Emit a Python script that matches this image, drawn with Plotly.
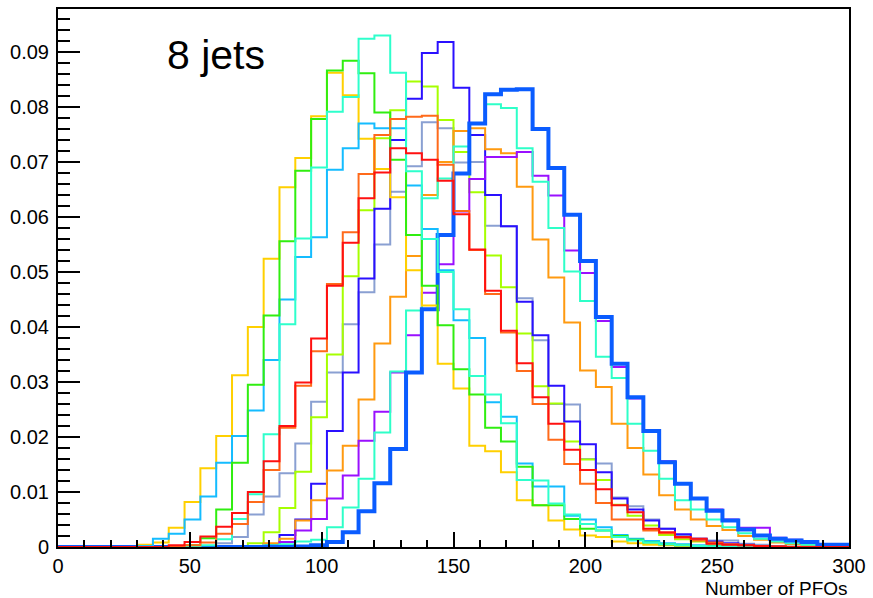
import plotly.graph_objects as go

# Bin edges (width 6) from 0 to 300
bin_width = 6
n_bins = 50
edges = [i * bin_width for i in range(n_bins + 1)]

def pad(start, vals):
    out = [0.0] * start + list(vals)
    return out + [0.0] * (n_bins - len(out))

yellow = pad(5, [0.0004, 0.0008, 0.0035, 0.0082, 0.0143, 0.0202, 0.0312, 0.0400, 0.0524, 0.0654,
                 0.0707, 0.0783, 0.0862, 0.0821, 0.0742, 0.0687, 0.0636, 0.0503, 0.0439, 0.0333,
                 0.0288, 0.0184, 0.0174, 0.0136, 0.0085, 0.0076, 0.0048, 0.0032, 0.0021, 0.0018,
                 0.0010, 0.0007, 0.0004, 0.0003, 0.0002, 0.0001])
lightblue = pad(5, [0.0002, 0.0015, 0.0024, 0.0050, 0.0092, 0.0153, 0.0202, 0.0248, 0.0340, 0.0450,
                    0.0527, 0.0563, 0.0686, 0.0725, 0.0770, 0.0761, 0.0761, 0.0657, 0.0578, 0.0503,
                    0.0412, 0.0380, 0.0263, 0.0237, 0.0152, 0.0110, 0.0110, 0.0057, 0.0050, 0.0036,
                    0.0022, 0.0015, 0.0011, 0.0007, 0.0005, 0.0003, 0.0002, 0.0001])
green = pad(8, [0.0003, 0.0016, 0.0068, 0.0153, 0.0295, 0.0421, 0.0556, 0.0684, 0.0778, 0.0866,
                0.0884, 0.0861, 0.0790, 0.0704, 0.0567, 0.0475, 0.0403, 0.0323, 0.0277, 0.0217,
                0.0192, 0.0146, 0.0076, 0.0076, 0.0051, 0.0033, 0.0030, 0.0020, 0.0013, 0.0008,
                0.0005, 0.0003, 0.0002, 0.0001])
aqua1 = pad(9, [0.0003, 0.0014, 0.0051, 0.0096, 0.0205, 0.0405, 0.0561, 0.0690, 0.0791, 0.0818,
                0.0924, 0.0930, 0.0862, 0.0683, 0.0560, 0.0500, 0.0432, 0.0311, 0.0277, 0.0225,
                0.0122, 0.0121, 0.0079, 0.0059, 0.0042, 0.0030, 0.0018, 0.0012, 0.0008, 0.0005,
                0.0003, 0.0002, 0.0001])
red = pad(7, [0.0003, 0.0009, 0.0019, 0.0037, 0.0062, 0.0100, 0.0156, 0.0220, 0.0299, 0.0379,
              0.0475, 0.0553, 0.0634, 0.0681, 0.0725, 0.0716, 0.0704, 0.0666, 0.0605, 0.0541,
              0.0466, 0.0393, 0.0334, 0.0272, 0.0224, 0.0177, 0.0140, 0.0105, 0.0076, 0.0063,
              0.0033, 0.0027, 0.0018, 0.0015, 0.0006, 0.0004, 0.0003, 0.0002, 0.0001])
orangered = pad(8, [0.0003, 0.0008, 0.0024, 0.0042, 0.0082, 0.0140, 0.0217, 0.0293, 0.0356, 0.0478,
                    0.0572, 0.0678, 0.0749, 0.0778, 0.0782, 0.0784, 0.0695, 0.0611, 0.0540, 0.0460,
                    0.0390, 0.0320, 0.0260, 0.0195, 0.0151, 0.0115, 0.0080, 0.0050, 0.0050, 0.0030,
                    0.0025, 0.0017, 0.0012, 0.0008, 0.0005, 0.0003, 0.0002, 0.0001])
steelblue = pad(9, [0.0002, 0.0007, 0.0018, 0.0059, 0.0092, 0.0134, 0.0188, 0.0264, 0.0317, 0.0405,
                    0.0463, 0.0550, 0.0646, 0.0692, 0.0772, 0.0761, 0.0699, 0.0700, 0.0584, 0.0583,
                    0.0452, 0.0376, 0.0260, 0.0259, 0.0160, 0.0152, 0.0090, 0.0074, 0.0050, 0.0033,
                    0.0021, 0.0015, 0.0012, 0.0012, 0.0006, 0.0004, 0.0002, 0.0001])
chartreuse = pad(11, [0.0002, 0.0007, 0.0027, 0.0071, 0.0137, 0.0236, 0.0350, 0.0492, 0.0612, 0.0743,
                      0.0794, 0.0846, 0.0837, 0.0776, 0.0718, 0.0645, 0.0530, 0.0472, 0.0388, 0.0292,
                      0.0261, 0.0192, 0.0159, 0.0122, 0.0077, 0.0057, 0.0039, 0.0022, 0.0014, 0.0010,
                      0.0006, 0.0004, 0.0002, 0.0001])
blueviolet = pad(12, [0.0002, 0.0005, 0.0022, 0.0050, 0.0115, 0.0211, 0.0317, 0.0488, 0.0615, 0.0740,
                      0.0815, 0.0898, 0.0918, 0.0835, 0.0749, 0.0640, 0.0583, 0.0446, 0.0385, 0.0293,
                      0.0228, 0.0187, 0.0136, 0.0088, 0.0068, 0.0048, 0.0033, 0.0023, 0.0015, 0.0010,
                      0.0007, 0.0004, 0.0002, 0.0001])
orange = pad(12, [0.0002, 0.0007, 0.0015, 0.0048, 0.0085, 0.0139, 0.0184, 0.0268, 0.0370, 0.0455,
                  0.0529, 0.0640, 0.0700, 0.0756, 0.0761, 0.0723, 0.0716, 0.0655, 0.0559, 0.0490,
                  0.0408, 0.0321, 0.0291, 0.0224, 0.0180, 0.0132, 0.0094, 0.0068, 0.0050, 0.0038,
                  0.0031, 0.0020, 0.0013, 0.0008, 0.0005, 0.0003, 0.0002, 0.0001])
purple = pad(13, [0.0002, 0.0009, 0.0030, 0.0051, 0.0088, 0.0130, 0.0193, 0.0246, 0.0317, 0.0385,
                  0.0462, 0.0514, 0.0610, 0.0669, 0.0709, 0.0709, 0.0718, 0.0675, 0.0639, 0.0539,
                  0.0498, 0.0411, 0.0327, 0.0270, 0.0210, 0.0156, 0.0115, 0.0088, 0.0068, 0.0050,
                  0.0035, 0.0035, 0.0017, 0.0013, 0.0008, 0.0004, 0.0003])
aqua2 = pad(13, [0.0003, 0.0005, 0.0010, 0.0013, 0.0036, 0.0072, 0.0124, 0.0208, 0.0319, 0.0430,
                 0.0634, 0.0670, 0.0728, 0.0770, 0.0805, 0.0798, 0.0725, 0.0664, 0.0580, 0.0501,
                 0.0447, 0.0346, 0.0307, 0.0224, 0.0175, 0.0124, 0.0085, 0.0068, 0.0050, 0.0036,
                 0.0025, 0.0015, 0.0010, 0.0007, 0.0004, 0.0002, 0.0001])
thickblue = pad(15, [0.0001, 0.0003, 0.0009, 0.0027, 0.0065, 0.0116, 0.0178, 0.0317, 0.0432, 0.0567,
                     0.0679, 0.0770, 0.0823, 0.0831, 0.0832, 0.0760, 0.0689, 0.0604, 0.0520, 0.0418,
                     0.0333, 0.0272, 0.0211, 0.0154, 0.0115, 0.0088, 0.0066, 0.0048, 0.0032, 0.0021,
                     0.0015, 0.0012, 0.0009, 0.0004, 0.0004])

series = [
    ("steel", steelblue, "#8aa0d2", 2),
    ("chartreuse", chartreuse, "#a6ff00", 2),
    ("blueviolet", blueviolet, "#2a10ff", 2),
    ("orange", orange, "#ff9a10", 2),
    ("purple", purple, "#9a10ff", 2),
    ("aqua2", aqua2, "#2effc8", 2),
    ("thickblue", thickblue, "#0a5cff", 4),
    ("yellow", yellow, "#ffd000", 2),
    ("lightblue", lightblue, "#14bcff", 2),
    ("green", green, "#30ee10", 2),
    ("aqua1", aqua1, "#2effcc", 2),
    ("orangered", orangered, "#ff6a1a", 2),
    ("red", red, "#ff1010", 2),
]

fig = go.Figure()
for name, vals, color, width in series:
    fig.add_trace(go.Scatter(
        x=edges, y=list(vals) + [vals[-1]], mode="lines", name=name,
        line=dict(color=color, width=width, shape="hv"), showlegend=False,
        hoverinfo="skip"))

font_family = "Liberation Sans, Arial, sans-serif"
y_ticks = [0, 0.01, 0.02, 0.03, 0.04, 0.05, 0.06, 0.07, 0.08, 0.09]
y_text = ["0", "0.01", "0.02", "0.03", "0.04", "0.05", "0.06", "0.07", "0.08", "0.09"]
x_ticks = [0, 50, 100, 150, 200, 250, 300]

fig.update_layout(
    width=873, height=598,
    margin=dict(l=58, r=20, t=7, b=51),
    paper_bgcolor="white", plot_bgcolor="white",
    font=dict(family=font_family, size=20, color="black"),
    xaxis=dict(range=[0, 300], tickvals=x_ticks, ticktext=[str(v) for v in x_ticks],
               ticks="inside", ticklen=15, tickwidth=1.5, tickcolor="black",
               minor=dict(dtick=10, tick0=0, ticks="inside", ticklen=7, tickwidth=1.5, tickcolor="black"),
               showline=True, linecolor="black", linewidth=2, mirror=True,
               showgrid=False, zeroline=False, ticklabelstandoff=0),
    yaxis=dict(range=[0, 0.0978], tickvals=y_ticks, ticktext=y_text,
               ticks="inside", ticklen=22, tickwidth=2, tickcolor="black",
               minor=dict(dtick=0.002, tick0=0, ticks="inside", ticklen=12, tickwidth=2, tickcolor="black"),
               showline=True, linecolor="black", linewidth=2, mirror=True,
               showgrid=False, zeroline=False, ticklabelstandoff=3),
    annotations=[
        dict(text="8 jets", x=0.1355, y=0.915, xref="paper", yref="paper",
             xanchor="left", yanchor="middle", showarrow=False,
             font=dict(family=font_family, size=41, color="black")),
        dict(text="Number of PFOs", x=1.0, y=-0.077, xref="paper", yref="paper",
             xanchor="right", yanchor="middle", showarrow=False, borderpad=0,
             font=dict(family=font_family, size=19, color="black")),
    ],
)

fig.write_html("out.html", config={"displayModeBar": False},
               post_script="document.body.style.margin='0';document.body.style.padding='0';")
